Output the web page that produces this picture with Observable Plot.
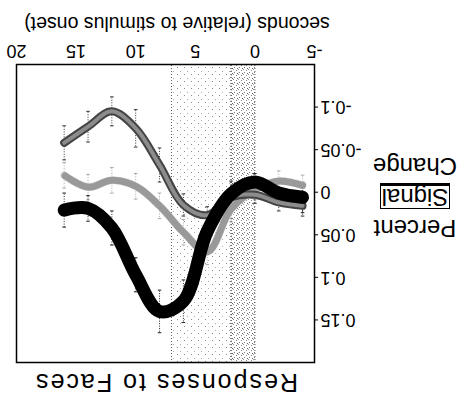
<!DOCTYPE html>
<html>
<head>
<meta charset="utf-8">
<script src="https://cdn.jsdelivr.net/npm/d3@7"></script>
<script src="https://cdn.jsdelivr.net/npm/@observablehq/plot@0.6"></script>
<style>
  html, body { margin: 0; padding: 0; background: #fff; }
  #wrap { position: relative; width: 458px; height: 404px; transform: rotate(180deg); transform-origin: 50% 50%; overflow: hidden; background: #fff; font-family: "Liberation Sans", Arial, sans-serif; color: #000; }
  #chart { position: absolute; left: 0; top: 0; }
  .title { position: absolute; left: 143px; top: 7px; width: 298px; text-align: center; font-size: 25px; letter-spacing: 2px; white-space: nowrap; }
  .xlab { position: absolute; left: 100px; top: 369px; width: 362px; text-align: center; font-size: 19.5px; white-space: nowrap; }
  .ylab { position: absolute; left: -4px; top: 160px; width: 94px; text-align: center; font-size: 24px; line-height: 31px; }
  .ylab span.box { border: 1px solid #000; border-bottom: 3px solid #000; padding: 0 1px; line-height: 22px; display: inline-block; }
</style>
</head>
<body>
<div id="wrap">
  <div id="chart"></div>
  <div class="title">Responses to Faces</div>
  <div class="xlab">seconds (relative to stimulus onset)</div>
  <div class="ylab">Percent<br><span class="box">Signal</span><br>Change</div>
</div>
<script>
// ---- data ----
const times      = [-4, -2, 0, 2, 4, 6, 8, 10, 12, 14, 16];
const blackVals  = [0.006, 0.001, -0.012, 0.002, 0.046, 0.128, 0.140, 0.097, 0.042, 0.019, 0.021];
const blackErr   = [0.018, 0.012, 0.010, 0.015, 0.020, 0.025, 0.025, 0.020, 0.020, 0.015, 0.020];
const darkVals   = [0.016, 0.012, 0.003, 0.006, 0.027, 0.015, -0.032, -0.075, -0.095, -0.077, -0.058];
const darkErr    = [0.012, 0.010, 0.010, 0.010, 0.010, 0.013, 0.020, 0.022, 0.017, 0.018, 0.020];
const lightVals  = [-0.008, -0.013, -0.003, 0.020, 0.070, 0.047, 0.016, -0.007, -0.014, -0.006, -0.020];
const lightErr   = [0.012, 0.012, 0.012, 0.015, 0.015, 0.015, 0.015, 0.015, 0.015, 0.015, 0.015];
const bandStart  = [0, 2];
const bandEnd    = [2, 7];
const bandFill   = ["url(#dense)", "url(#light)"];
const xTicks     = [-5, 0, 5, 10, 15, 20];
const yTicks     = [-0.1, -0.05, 0, 0.05, 0.1, 0.15];

const rows = (vals, errs) => times.map((t, i) => ({t, v: vals[i], e: errs[i]}));
const black = rows(blackVals, blackErr);
const dark  = rows(darkVals, darkErr);
const light = rows(lightVals, lightErr);

const defs = () => {
  const ns = "http://www.w3.org/2000/svg";
  const d = document.createElementNS(ns, "defs");
  d.innerHTML =
    '<pattern id="dense" width="5" height="5" patternUnits="userSpaceOnUse">' +
      '<rect x="0" y="0" width="1" height="1" fill="#666"/>' +
      '<rect x="3" y="1" width="1" height="1" fill="#777"/>' +
      '<rect x="1" y="3" width="1" height="1" fill="#888"/>' +
      '<rect x="4" y="4" width="1" height="1" fill="#999"/>' +
    '</pattern>' +
    '<pattern id="light" width="7" height="7" patternUnits="userSpaceOnUse">' +
      '<rect x="0" y="0" width="1" height="1" fill="#888"/>' +
      '<rect x="4" y="3" width="1" height="1" fill="#aaa"/>' +
    '</pattern>';
  return d;
};

const errMarks = (data, color) => [
  Plot.ruleX(data, {x: "t", y1: d => d.v - d.e, y2: d => d.v + d.e, stroke: color, strokeWidth: 1, strokeDasharray: "1,1.5"}),
  Plot.link(data, {x1: d => d.t - 0.15, x2: d => d.t + 0.15, y1: d => d.v + d.e, y2: d => d.v + d.e, stroke: color, strokeWidth: 1}),
  Plot.link(data, {x1: d => d.t - 0.15, x2: d => d.t + 0.15, y1: d => d.v - d.e, y2: d => d.v - d.e, stroke: color, strokeWidth: 1})
];

const fmt = d => d === 0 ? "0" : String(d);

const chart = Plot.plot({
  width: 458,
  height: 404,
  marginLeft: 143,
  marginRight: 17,
  marginTop: 41,
  marginBottom: 65,
  style: {fontFamily: "'Liberation Sans', Arial, sans-serif", fontSize: "18px", color: "#000", background: "transparent"},
  x: {domain: [-5, 20], ticks: xTicks, tickFormat: fmt, tickSize: 0, tickPadding: 7, label: null},
  y: {domain: [-0.15, 0.2], ticks: yTicks, tickFormat: fmt, tickSize: 3, tickPadding: 3, label: null},
  marks: [
    defs,
    Plot.rect([0, 1], {x1: i => bandStart[i], x2: i => bandEnd[i], y1: -0.15, y2: 0.2, fill: bandFill[0], filter: i => i === 0}),
    Plot.rect([0, 1], {x1: i => bandStart[i], x2: i => bandEnd[i], y1: -0.15, y2: 0.2, fill: bandFill[1], filter: i => i === 1}),
    Plot.ruleX(bandStart.concat(bandEnd), {stroke: "#555", strokeWidth: 1, strokeDasharray: "1,2"}),
    ...errMarks(light, "#aaa"),
    ...errMarks(dark, "#333"),
    ...errMarks(black, "#222"),
    Plot.line(light, {x: "t", y: "v", stroke: "#e2e2e2", strokeWidth: 8, curve: "catmull-rom"}),
    Plot.line(light, {x: "t", y: "v", stroke: "#999", strokeWidth: 7, strokeDasharray: "1,2", curve: "catmull-rom"}),
    Plot.line(dark, {x: "t", y: "v", stroke: "#444", strokeWidth: 8, curve: "catmull-rom"}),
    Plot.line(dark, {x: "t", y: "v", stroke: "#8c8c8c", strokeWidth: 4, strokeDasharray: "2,1", curve: "catmull-rom"}),
    Plot.line(black, {x: "t", y: "v", stroke: "#000", strokeWidth: 13, strokeLinecap: "round", strokeLinejoin: "round", curve: "catmull-rom"}),
    Plot.frame({stroke: "#000", strokeWidth: 1.5})
  ]
});
document.getElementById("chart").appendChild(chart);
</script>
</body>
</html>
